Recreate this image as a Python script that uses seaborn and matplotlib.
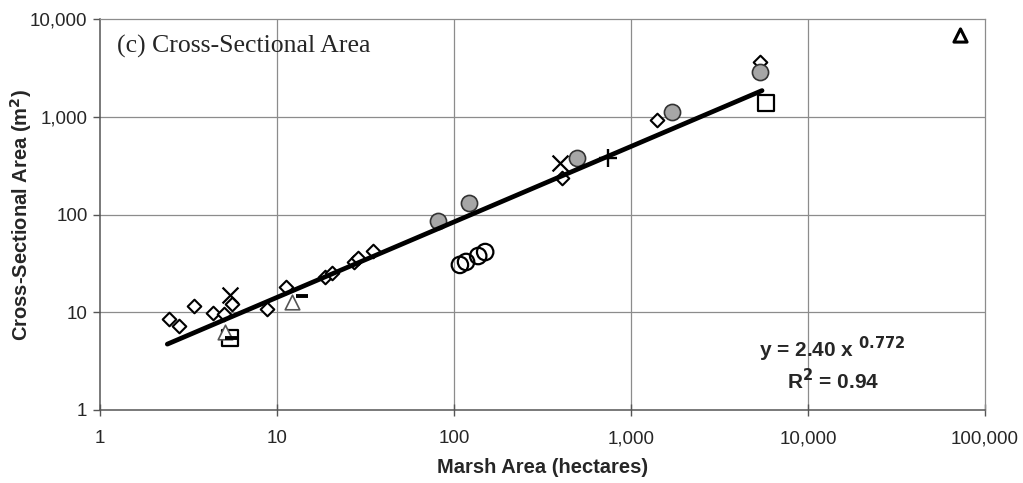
import numpy as np
import pandas as pd
import matplotlib
matplotlib.use("Agg")
import matplotlib.pyplot as plt
import seaborn as sns
from matplotlib.ticker import FixedLocator, FuncFormatter, NullLocator

# Observations: marsh area (ha) vs channel cross-sectional area (m^2), by data source
diamond_x = [2.45, 2.79, 3.40, 4.35, 5.02, 5.57, 8.78, 11.2, 18.7, 20.5, 27.2, 28.5, 34.9, 407, 1403, 5353]
diamond_y = [8.5, 7.2, 11.6, 9.8, 9.6, 12.1, 10.8, 18.1, 22.9, 25.2, 33.0, 36.0, 42.3, 236, 927, 3632]

gray_circle_x = [81.2, 121.5, 495, 1705, 5353]
gray_circle_y = [85.8, 131, 378, 1119, 2870]

open_circle_x = [108, 117, 137, 150]
open_circle_y = [30.5, 32.7, 37.6, 41.3]

square_x = [5.43, 5790]
square_y = [5.45, 1383]

triangle_x = [5.1, 12.2]
triangle_y = [6.3, 12.7]

big_triangle_x = [72300]
big_triangle_y = [6860]

xmark_x = [5.43, 397]
xmark_y = [15.0, 336]

plus_x = [741]
plus_y = [378]

dash_x = [13.8, 5.5]
dash_y = [14.7, 5.4]

# Power-law fit y = a * x^b
fit_a = 2.40
fit_b = 0.772
fit_r2 = 0.94
fit_xmin, fit_xmax = 2.4, 5500

x_ticks = [1, 10, 100, 1000, 10000, 100000]
y_ticks = [1, 10, 100, 1000, 10000]

sns.set_theme(style="white")
plt.rcParams["font.family"] = ["Liberation Sans", "DejaVu Sans"]

fig = plt.figure(figsize=(10.23, 4.83), dpi=100)
ax = fig.add_axes([100 / 1023, 73 / 483, 885 / 1023, 391 / 483])
ax.set_xscale("log")
ax.set_yscale("log")
ax.set_xlim(1, 100000)
ax.set_ylim(1, 10000)

# grid
for v in x_ticks[1:-1]:
    ax.axvline(v, color="#8c8c8c", lw=0.9, zorder=0)
for v in y_ticks[1:-1]:
    ax.axhline(v, color="#8c8c8c", lw=0.9, zorder=0)

def series(xs, ys, **kw):
    df = pd.DataFrame({"x": xs, "y": ys})
    sns.scatterplot(data=df, x="x", y="y", ax=ax, legend=False, zorder=3, **kw)

series(diamond_x, diamond_y, marker="D", s=48, facecolor="white", edgecolor="black", linewidth=1.5)
series(gray_circle_x, gray_circle_y, marker="o", s=135, facecolor="#a6a6a6", edgecolor="#333333", linewidth=1.2)
series(open_circle_x, open_circle_y, marker="o", s=140, facecolor="none", edgecolor="black", linewidth=1.6)
series(square_x, square_y, marker="s", s=140, facecolor="white", edgecolor="black", linewidth=1.6)
series(triangle_x, triangle_y, marker="^", s=110, facecolor="white", edgecolor="#555555", linewidth=1.2)
series(big_triangle_x, big_triangle_y, marker="^", s=90, facecolor="white", edgecolor="black", linewidth=2.2)
series(xmark_x, xmark_y, marker="x", s=130, color="black", linewidth=1.6)
series(plus_x, plus_y, marker="+", s=170, color="black", linewidth=1.7)
series(dash_x, dash_y, marker="_", s=80, color="black", linewidth=2.8)

# fitted power law
fx = np.logspace(np.log10(fit_xmin), np.log10(fit_xmax), 50)
fit_df = pd.DataFrame({"x": fx, "y": fit_a * fx ** fit_b})
sns.lineplot(data=fit_df, x="x", y="y", ax=ax, color="black", lw=3.4, zorder=4, legend=False)

ax.xaxis.set_major_locator(FixedLocator(x_ticks))
ax.yaxis.set_major_locator(FixedLocator(y_ticks))
ax.xaxis.set_minor_locator(NullLocator())
ax.yaxis.set_minor_locator(NullLocator())
fmt = FuncFormatter(lambda v, p: f"{int(round(v)):,}")
ax.xaxis.set_major_formatter(fmt)
ax.yaxis.set_major_formatter(fmt)
ax.tick_params(axis="x", which="major", direction="inout", length=9, width=1.0,
               color="#555555", labelsize=13.5, pad=10, bottom=True)
ax.tick_params(axis="y", which="major", direction="out", length=5, width=1.0,
               color="#555555", labelsize=13.5, pad=4, left=True)

for side in ["left", "bottom"]:
    ax.spines[side].set_color("#555555")
    ax.spines[side].set_linewidth(1.1)
for side in ["top", "right"]:
    ax.spines[side].set_color("#8c8c8c")
    ax.spines[side].set_linewidth(0.9)

ax.set_xlabel("Marsh Area (hectares)", fontsize=14.5, fontweight="bold")
ax.xaxis.set_label_coords(0.5, -0.122)
ax.set_ylabel("Cross-Sectional Area (m$^\\mathbf{2}$)", fontsize=14.5, fontweight="bold")
ax.yaxis.set_label_coords(-0.075, 0.5)

ax.text(0.019, 0.96, "(c) Cross-Sectional Area", transform=ax.transAxes,
        family=["Liberation Serif", "DejaVu Serif"], fontsize=18.5, va="top", ha="left")

ax.text(0.828, 0.155, f"y = {fit_a:.2f} x $^{{\\mathbf{{{fit_b}}}}}$", transform=ax.transAxes,
        fontsize=15, fontweight="bold", ha="center", va="center")
ax.text(0.828, 0.075, f"R$^\\mathbf{{2}}$ = {fit_r2:.2f}", transform=ax.transAxes,
        fontsize=15, fontweight="bold", ha="center", va="center")

ax.set_facecolor("white")
fig.patch.set_facecolor("white")
fig.savefig("out.png", dpi=100)
